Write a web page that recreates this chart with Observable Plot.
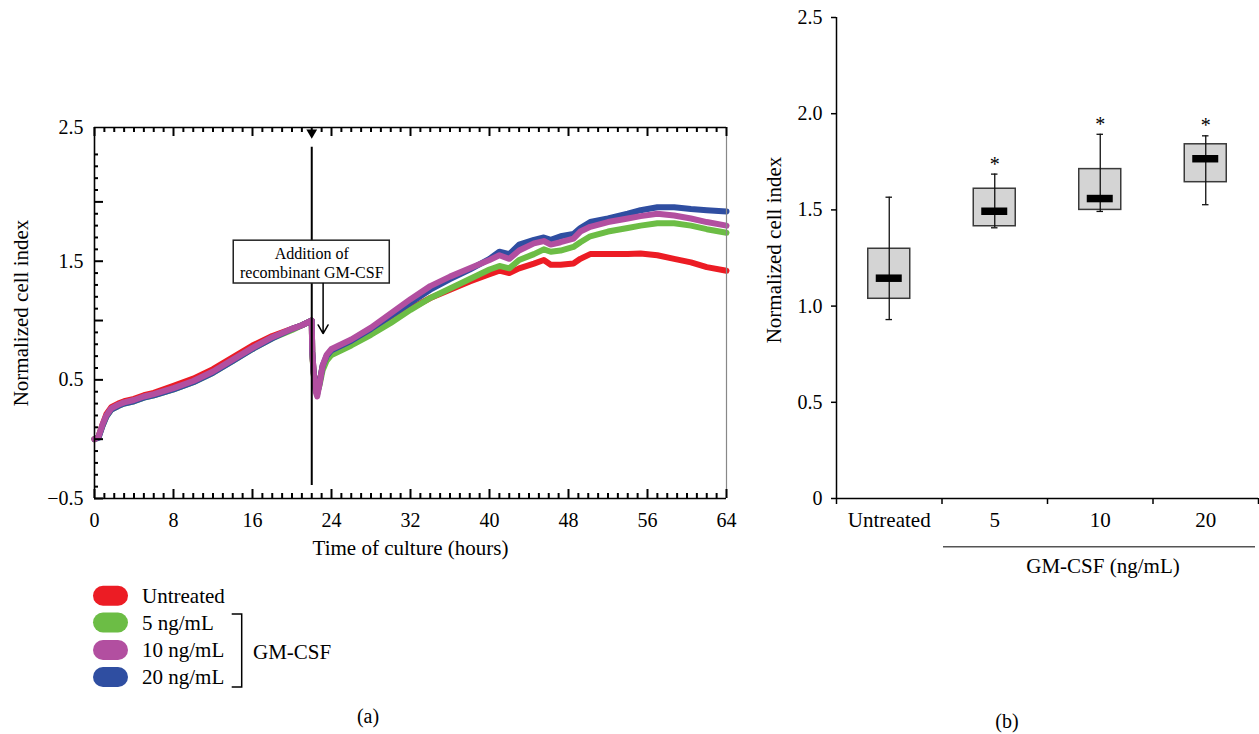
<!DOCTYPE html>
<html><head><meta charset="utf-8">
<script src="https://cdn.jsdelivr.net/npm/d3@7"></script>
<script src="https://cdn.jsdelivr.net/npm/@observablehq/plot@0.6"></script>
<style>
body{margin:0;background:#fff;font-family:"Liberation Serif","DejaVu Serif",serif;}
#wrap{position:relative;width:1259px;height:734px;overflow:hidden;background:#fff;}
#wrap > svg, #wrap > figure{position:absolute;margin:0;}
</style></head><body><div id="wrap"></div>
<script>
// ---------- Panel (a) data ----------
const time = [0,0.4,0.8,1.2,1.7,2.4,3,4,5,6,8,10,12,14,16,18,20,21,22,
  22.05,22.2,22.4,22.55,22.8,23.1,23.5,24,
  25,26,28,30,32,34,36,38,40,41,42,43,44.5,45.5,46.2,47.2,48.5,49.2,50.2,52,54,55.3,57,58.7,60.4,62,64];
const untreated = [0,0.02,0.12,0.21,0.27,0.30,0.32,0.34,0.37,0.39,0.45,0.51,0.59,0.69,0.79,0.87,0.93,0.96,1.0,
  0.73,0.56,0.43,0.40,0.49,0.61,0.69,0.74,
  0.78,0.82,0.91,1.01,1.10,1.19,1.26,1.33,1.39,1.42,1.40,1.44,1.48,1.51,1.47,1.47,1.48,1.52,1.56,1.56,1.56,1.565,1.55,1.52,1.49,1.45,1.42];
const gm5 = [0,0.02,0.11,0.19,0.25,0.28,0.30,0.32,0.35,0.37,0.42,0.48,0.56,0.66,0.76,0.85,0.92,0.96,1.0,
  0.72,0.54,0.42,0.39,0.46,0.58,0.66,0.71,
  0.75,0.79,0.88,0.98,1.09,1.19,1.27,1.35,1.43,1.46,1.44,1.51,1.56,1.60,1.58,1.59,1.62,1.66,1.71,1.75,1.78,1.80,1.82,1.82,1.80,1.77,1.74];
const gm10 = [0,0.02,0.12,0.20,0.26,0.29,0.31,0.33,0.36,0.38,0.43,0.49,0.57,0.67,0.77,0.86,0.93,0.96,1.0,
  0.74,0.55,0.40,0.36,0.47,0.62,0.71,0.76,
  0.80,0.84,0.94,1.06,1.18,1.29,1.37,1.44,1.51,1.55,1.52,1.59,1.65,1.67,1.64,1.66,1.69,1.75,1.79,1.83,1.86,1.88,1.90,1.885,1.86,1.83,1.80];
const gm20 = [0,0.01,0.11,0.19,0.25,0.28,0.30,0.32,0.35,0.37,0.42,0.48,0.56,0.66,0.76,0.85,0.93,0.96,1.0,
  0.74,0.56,0.42,0.38,0.48,0.62,0.70,0.75,
  0.79,0.83,0.93,1.04,1.15,1.26,1.35,1.43,1.52,1.58,1.56,1.64,1.68,1.70,1.68,1.71,1.73,1.78,1.83,1.86,1.90,1.93,1.955,1.955,1.94,1.93,1.92];
const seriesNames = ["Untreated","5 ng/mL","10 ng/mL","20 ng/mL"];
const seriesColors = ["#ec1c24","#6cbd45","#b24fa0","#2f4ea1"];
const xMajorTicks = [0,8,16,24,32,40,48,56,64];
const yDomainA = [-0.5, 2.627];
const yMajorTicksA = [-0.5,0,0.5,1,1.5,2];
const yTickLabelsA = ["\u22120.5","0.5","1.5","2.5"];
const yTickValuesA = [-0.5,0.5,1.5,2.627];
const additionTime = 22;
const annotation = {t: 22, v: 1.49, label: "Addition of\nrecombinant GM-CSF",
  t1: 14.1, t2: 29.9, v1: 1.312, v2: 1.673, arrowT: 23.15, arrowFrom: 1.312, arrowTo: 0.89};

// ---------- Panel (b) data ----------
const groups = ["Untreated","5","10","20"];
const whiskerLow  = [0.93, 1.407, 1.492, 1.527];
const quart1      = [1.038, 1.415, 1.50, 1.644];
const medians     = [1.145, 1.493, 1.559, 1.766];
const quart3      = [1.298, 1.61, 1.712, 1.841];
const whiskerHigh = [1.566, 1.686, 1.893, 1.885];
const significance = ["", "*", "*", "*"];
const yTicksB = [0,0.5,1,1.5,2,2.5];

const FONT = "Liberation Serif, DejaVu Serif, serif";
const wrap = document.getElementById("wrap");

// ---------- Panel (a) ----------
const WA = 750, HA = 560, mA = {left: 94, right: 24, top: 127, bottom: 62};
const frameW = WA - mA.left - mA.right, frameH = HA - mA.top - mA.bottom;
const drawOrder = [["Untreated", untreated], ["5 ng/mL", gm5], ["20 ng/mL", gm20], ["10 ng/mL", gm10]];
const lineRows = [];
drawOrder.forEach(([name, vals]) => vals.forEach((v, i) => lineRows.push({series: name, t: time[i], v})));
const xMinor = d3.range(1, 64).filter(d => d % 8 !== 0);
const yMinor = d3.range(-5, 26).map(d => d / 10).filter(d => Math.abs(d * 2 - Math.round(d * 2)) > 1e-9);
const yLabelMap = new Map(yTickValuesA.map((v, i) => [v, yTickLabelsA[i]]));

const plotA = Plot.plot({
  width: WA, height: HA, marginLeft: mA.left, marginRight: mA.right, marginTop: mA.top, marginBottom: mA.bottom,
  style: {background: "transparent", fontFamily: FONT, fontSize: "20px", color: "#000", overflow: "visible"},
  x: {domain: [0, 64], label: null},
  y: {domain: yDomainA, label: null},
  color: {domain: seriesNames, range: seriesColors},
  marks: [
    Plot.line(lineRows, {x: "t", y: "v", z: "series", stroke: "series", strokeWidth: 6, strokeLinejoin: "round", strokeLinecap: "round"}),
    Plot.ruleX([additionTime], {x: d => d, y1: 2.46, y2: -0.39, stroke: "#000", strokeWidth: 2}),
    Plot.rect([annotation], {x1: "t1", x2: "t2", y1: "v1", y2: "v2", fill: "white", stroke: "#222", strokeWidth: 1.5}),
    Plot.text([annotation], {x: "t", y: "v", text: "label", fontSize: 16, lineHeight: 1.2, fill: "#000"}),
    Plot.arrow([annotation], {x1: "arrowT", x2: "arrowT", y1: "arrowFrom", y2: "arrowTo", headLength: 10, strokeWidth: 1.5, stroke: "#000"}),
    Plot.dot([additionTime], {x: d => d, y: () => yDomainA[1], symbol: "triangle", rotate: 180, r: 4, fill: "#000", dy: 5}),
    Plot.ruleX([64], {x: d => d, stroke: "#888", strokeWidth: 1.2}),
    Plot.ruleX([0], {x: d => d, stroke: "#000", strokeWidth: 1.6}),
    Plot.ruleY(yDomainA, {y: d => d, stroke: "#000", strokeWidth: 1.6}),
    Plot.tickX(xMinor, {x: d => d, insetTop: frameH - 5, strokeWidth: 2}),
    Plot.tickX(xMinor, {x: d => d, insetBottom: frameH - 5, strokeWidth: 2}),
    Plot.tickX(xMajorTicks, {x: d => d, insetTop: frameH - 9, strokeWidth: 2}),
    Plot.tickX(xMajorTicks, {x: d => d, insetBottom: frameH - 9, strokeWidth: 2}),
    Plot.tickY(yMinor, {y: d => d, insetRight: frameW - 4, strokeWidth: 2}),
    Plot.tickY(yMajorTicksA, {y: d => d, insetRight: frameW - 9, strokeWidth: 2}),
    Plot.axisX({ticks: xMajorTicks, tickSize: 0, tickPadding: 14, fontSize: 20}),
    Plot.axisY({ticks: yTickValuesA, tickSize: 0, tickPadding: 11, fontSize: 20, tickFormat: d => yLabelMap.get(d)}),
    Plot.text(["Time of culture (hours)"], {frameAnchor: "bottom", lineAnchor: "middle", textAnchor: "middle", dy: 50, fontSize: 21, fill: "#000"}),
    Plot.text(["Normalized cell index"], {frameAnchor: "left", textAnchor: "middle", lineAnchor: "middle", dx: -73, rotate: -90, fontSize: 21, fill: "#000"})
  ]
});
plotA.style.left = "0px"; plotA.style.top = "0px";
wrap.appendChild(plotA);

// ---------- Panel (b) ----------
const boxRows = groups.map((g, i) => ({g, i, lo: whiskerLow[i], q1: quart1[i], med: medians[i], q3: quart3[i], hi: whiskerHigh[i], sig: significance[i]}));
const plotB = Plot.plot({
  width: 509, height: 560, marginLeft: 86, marginRight: 1, marginTop: 17, marginBottom: 62,
  style: {background: "transparent", fontFamily: FONT, fontSize: "20px", color: "#000", overflow: "visible"},
  x: {domain: [0, groups.length], label: null},
  y: {domain: [0, 2.5], label: null},
  marks: [
    Plot.rect(boxRows, {x1: "i", x2: d => d.i + 1, y1: "q1", y2: "q3", insetLeft: 31.75, insetRight: 31.75, fill: "#d4d4d4", stroke: "#3a3a3a", strokeWidth: 1.5}),
    Plot.ruleX(boxRows, {x: d => d.i + 0.5, y1: "lo", y2: "hi", stroke: "#111", strokeWidth: 1.3}),
    Plot.ruleY(boxRows, {x1: "i", x2: d => d.i + 1, y: "hi", insetLeft: 49.5, insetRight: 49.5, stroke: "#111", strokeWidth: 1.3}),
    Plot.ruleY(boxRows, {x1: "i", x2: d => d.i + 1, y: "lo", insetLeft: 49.5, insetRight: 49.5, stroke: "#111", strokeWidth: 1.3}),
    Plot.ruleY(boxRows, {x1: "i", x2: d => d.i + 1, y: "med", insetLeft: 39.75, insetRight: 39.75, stroke: "#000", strokeWidth: 7.5}),
    Plot.text(boxRows.filter(d => d.sig), {x: d => d.i + 0.5, y: "hi", text: "sig", dy: -10, fontSize: 20, fill: "#000"}),
    Plot.ruleX([0], {x: d => d, y1: 0, y2: 2.5, stroke: "#000", strokeWidth: 1.5}),
    Plot.ruleY([0], {y: d => d, stroke: "#000", strokeWidth: 1.5}),
    Plot.axisY({ticks: yTicksB, tickSize: 5, tickPadding: 9, fontSize: 20, strokeWidth: 1.5, tickFormat: d => d === 0 ? "0" : d.toFixed(1)}),
    Plot.axisX({ticks: d3.range(groups.length + 1), tickSize: 6, strokeWidth: 1.5, tickFormat: () => ""}),
    Plot.axisX({ticks: groups.map((g, i) => i + 0.5), tickSize: 0, tickPadding: 14, fontSize: 21, tickFormat: d => groups[Math.floor(d)]}),
    Plot.text(["Normalized cell index"], {frameAnchor: "left", textAnchor: "middle", lineAnchor: "middle", dx: -62, dy: -8, rotate: -90, fontSize: 21, fill: "#000"})
  ]
});
plotB.style.left = "750px"; plotB.style.top = "0px";
wrap.appendChild(plotB);

// ---------- Legend and panel captions ----------
const legendRowsY = [595.7, 622.5, 650, 677];
const ov = d3.select(wrap).append("svg").attr("width", 1259).attr("height", 734)
  .style("left", "0px").style("top", "0px").style("pointer-events", "none")
  .style("font-family", FONT);
seriesNames.forEach((name, i) => {
  ov.append("rect").attr("x", 93).attr("y", legendRowsY[i] - 10).attr("width", 35).attr("height", 20)
    .attr("rx", 10).attr("fill", seriesColors[i]);
  ov.append("text").attr("x", 142).attr("y", legendRowsY[i]).attr("dy", "0.34em")
    .attr("font-size", 21).text(name);
});
ov.append("path").attr("d", "M231.7,614H241.7V687H231.7").attr("fill", "none").attr("stroke", "#000").attr("stroke-width", 1.5);
ov.append("text").attr("x", 253).attr("y", 651.7).attr("dy", "0.34em").attr("font-size", 21).text("GM-CSF");
ov.append("text").attr("x", 368).attr("y", 716).attr("dy", "0.34em").attr("font-size", 20).attr("text-anchor", "middle").text("(a)");
ov.append("line").attr("x1", 943).attr("x2", 1255).attr("y1", 546.7).attr("y2", 546.7).attr("stroke", "#555").attr("stroke-width", 1.5);
ov.append("text").attr("x", 1103).attr("y", 566).attr("dy", "0.34em").attr("font-size", 21).attr("text-anchor", "middle").text("GM-CSF (ng/mL)");
ov.append("text").attr("x", 1007).attr("y", 721).attr("dy", "0.34em").attr("font-size", 20).attr("text-anchor", "middle").text("(b)");
</script></body></html>
